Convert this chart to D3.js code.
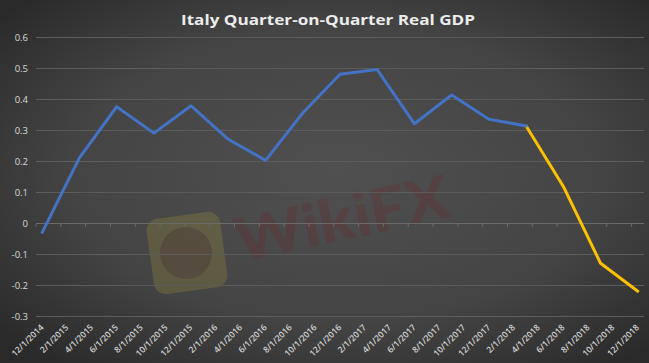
<!DOCTYPE html>
<html><head><meta charset="utf-8">
<script src="https://cdn.jsdelivr.net/npm/d3@7"></script>
<style>html,body{margin:0;padding:0;background:#333;}svg{display:block;}</style>
</head><body>
<svg id="c" width="649" height="363"></svg>
<script>
// ---- data ----
const title = "Italy Quarter-on-Quarter Real GDP";
const axisLabels = ["12/1/2014","2/1/2015","4/1/2015","6/1/2015","8/1/2015","10/1/2015","12/1/2015",
  "2/1/2016","4/1/2016","6/1/2016","8/1/2016","10/1/2016","12/1/2016",
  "2/1/2017","4/1/2017","6/1/2017","8/1/2017","10/1/2017","12/1/2017",
  "2/1/2018","4/1/2018","6/1/2018","8/1/2018","10/1/2018","12/1/2018"];
const quarterDates = ["12/1/2014","3/1/2015","6/1/2015","9/1/2015","12/1/2015","3/1/2016","6/1/2016",
  "9/1/2016","12/1/2016","3/1/2017","6/1/2017","9/1/2017","12/1/2017","3/1/2018",
  "6/1/2018","9/1/2018","12/1/2018"];
const actualValues = [-0.03,0.21,0.375,0.29,0.378,0.27,0.202,0.355,0.48,0.495,0.32,0.413,0.335,0.313];
const forecastValues = [0.313,0.118,-0.13,-0.22];
const forecastDates = ["3/1/2018","6/1/2018","9/1/2018","12/1/2018"];
const yTickValues = [-0.3,-0.2,-0.1,0,0.1,0.2,0.3,0.4,0.5,0.6];
const yTickLabels = ["-0.3","-0.2","-0.1","0","0.1","0.2","0.3","0.4","0.5","0.6"];

// month index relative to 12/1/2014
function mIdx(s){const p=s.split("/").map(Number);return (p[2]-2014)*12+(p[0]-12);}

const svg = d3.select("#c");
const W=649,H=363;
const defs = svg.append("defs");
const rg = defs.append("radialGradient").attr("id","bg").attr("cx","52%").attr("cy","48%").attr("r","68%");
rg.append("stop").attr("offset","0%").attr("stop-color","#505050");
rg.append("stop").attr("offset","60%").attr("stop-color","#444444");
rg.append("stop").attr("offset","100%").attr("stop-color","#2a2a2a");
svg.append("rect").attr("width",W).attr("height",H).attr("fill","url(#bg)");

const x = d3.scaleLinear().domain([-0.5,48.5]).range([36,644]);
const y = d3.scaleLinear().domain([-0.3,0.6]).range([316,37]);

// watermark
const wm = svg.append("g");
wm.append("rect").attr("x",150).attr("y",215).attr("width",74).attr("height",76).attr("rx",12)
  .attr("fill","#9a8a3a").attr("opacity",0.3).attr("transform","rotate(-8,187,253)");
wm.append("circle").attr("cx",186).attr("cy",253).attr("r",26).attr("fill","#4a3a3a").attr("opacity",0.45);
wm.append("text").attr("x",240).attr("y",262).attr("font-family","Lato, sans-serif").attr("font-weight","900")
  .attr("font-size",60).attr("fill","#6a2a2a").attr("opacity",0.3)
  .attr("textLength",218).attr("lengthAdjust","spacingAndGlyphs")
  .attr("transform","rotate(-12,240,262)").text("WikiFX");

// gridlines
svg.append("g").selectAll("line").data(yTickValues).join("line")
  .attr("x1",36).attr("x2",644).attr("y1",d=>Math.round(y(d))+0.5).attr("y2",d=>Math.round(y(d))+0.5)
  .attr("stroke",d=>d===0?"#6a6a6a":"#5c5c5c").attr("stroke-width",1);

// small tick marks on zero line
const tickIdx = d3.range(-0.5,49,2);
svg.append("g").selectAll("line").data(tickIdx).join("line")
  .attr("x1",d=>x(d)).attr("x2",d=>x(d)).attr("y1",Math.round(y(0))+0.5).attr("y2",Math.round(y(0))+4)
  .attr("stroke","#6a6a6a");

// y labels
svg.append("g").selectAll("text").data(yTickValues).join("text")
  .attr("x",28).attr("y",d=>y(d)+3.5).attr("text-anchor","end")
  .attr("font-family","'Open Sans', 'DejaVu Sans', sans-serif").attr("font-size",9.5).attr("fill","#d9d9d9")
  .text((d,i)=>yTickLabels[i]);

// x labels
svg.append("g").selectAll("text").data(axisLabels).join("text")
  .attr("transform",d=>`translate(${x(mIdx(d))+2},328) rotate(-45)`)
  .attr("text-anchor","end")
  .attr("font-family","'Open Sans', 'DejaVu Sans', sans-serif").attr("font-weight","600").attr("font-size",8.6).attr("fill","#d0d0d0")
  .text(d=>d);

// title
svg.append("text").attr("x",328).attr("y",25).attr("text-anchor","middle")
  .attr("font-family","'Open Sans', sans-serif").attr("font-weight","700").attr("font-size",15)
  .attr("fill","#ececec").attr("textLength",294).attr("lengthAdjust","spacingAndGlyphs").text(title);

// lines
const line = d3.line().x(d=>x(mIdx(d[0]))).y(d=>y(d[1]));
svg.append("path").datum(forecastDates.map((d,i)=>[d,forecastValues[i]]))
  .attr("d",line).attr("fill","none").attr("stroke","#FFC000").attr("stroke-width",3).attr("stroke-linejoin","round").attr("stroke-linecap","round");
svg.append("path").datum(actualValues.map((v,i)=>[quarterDates[i],v]))
  .attr("d",line).attr("fill","none").attr("stroke","#4472C4").attr("stroke-width",3).attr("stroke-linejoin","round").attr("stroke-linecap","round");
</script>
</body></html>
